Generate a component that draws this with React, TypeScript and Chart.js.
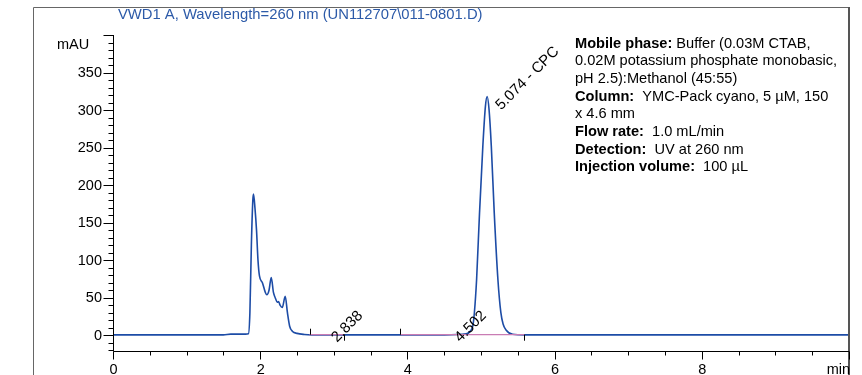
import React, { useEffect, useRef } from "react";
import { Chart, registerables } from "chart.js";

Chart.register(...registerables);

// Retention time (min) and absorbance (mAU)
const times = [
  0, 1.5, 1.6, 1.8, 1.84, 1.86, 1.88, 1.9, 1.909, 1.93, 1.95, 1.97, 1.99, 2.03, 2.07, 2.09,
  2.12, 2.15, 2.18, 2.2, 2.235, 2.25, 2.27, 2.3, 2.34, 2.37, 2.4, 2.44, 2.5, 2.6, 2.7, 3.5,
  4.5, 4.8, 4.86, 4.89, 4.91, 4.94, 4.98, 5.025, 5.06, 5.084, 5.11, 5.14, 5.18, 5.23, 5.27,
  5.3, 5.34, 5.43, 5.6, 10,
];
const absorbance = [
  0.5, 0.5, 1.5, 1.5, 2, 30, 120, 180, 188, 168, 140, 100, 79, 70, 57, 54,
  60, 77, 57, 51, 44, 45, 40, 37, 52, 30, 12, 5, 2.5, 1, 0.5, 0.5,
  0.5, 2, 6, 13, 30, 74, 163, 252, 305, 318, 300, 252, 163, 74, 30,
  15, 7, 1.3, 0.5, 0.5,
];

// Integration baselines (start, end) in minutes
const baseline1 = [2.67, 3.14];
const baseline2 = [3.905, 5.59];
const baselineLevel = 0.7;

// Peak labels
const peakTimes = [2.838, 4.502, 5.084];
const peakValues = [0.5, 0.5, 318];
const peakLabels = ["2.838", "4.502", "5.074 - CPC"];

// Axis ticks
const xTickValues = [0, 2, 4, 6, 8];
const xTickLabels = ["0", "2", "4", "6", "8"];
const yTickValues = [0, 50, 100, 150, 200, 250, 300, 350];
const yTickLabels = ["0", "50", "100", "150", "200", "250", "300", "350"];

const titleText = "VWD1 A, Wavelength=260 nm (UN112707\\011-0801.D)";
const notes: [string, string][] = [
  ["Mobile phase:", " Buffer (0.03M CTAB,"],
  ["", "0.02M potassium phosphate monobasic,"],
  ["", "pH 2.5):Methanol (45:55)"],
  ["Column:", "  YMC-Pack cyano, 5 \u00b5M, 150"],
  ["", "x 4.6 mm"],
  ["Flow rate:", "  1.0 mL/min"],
  ["Detection:", "  UV at 260 nm"],
  ["Injection volume:", "  100 \u00b5L"],
];

const FONT = "Arial, 'Liberation Sans', sans-serif";

const decorPlugin = {
  id: "decor",
  beforeDraw(chart: any) {
    const ctx = chart.ctx;
    ctx.save();
    ctx.fillStyle = "#fff";
    ctx.fillRect(0, 0, chart.width, chart.height);
    ctx.restore();
  },
  afterDraw(chart: any) {
    const ctx = chart.ctx;
    const xs = chart.scales.x;
    const ys = chart.scales.y;
    const area = chart.chartArea;
    ctx.save();

    // outer frame
    ctx.strokeStyle = "#666";
    ctx.lineWidth = 1;
    ctx.beginPath();
    ctx.moveTo(33.5, 375);
    ctx.lineTo(33.5, 7.5);
    ctx.lineTo(849.5, 7.5);
    ctx.stroke();
    ctx.lineWidth = 2;
    ctx.strokeStyle = "#555";
    ctx.beginPath();
    ctx.moveTo(849, 7);
    ctx.lineTo(849, 375);
    ctx.stroke();

    // axes
    ctx.strokeStyle = "#000";
    ctx.lineWidth = 1;
    const ax = Math.round(area.left) + 0.5;
    const ay = Math.round(area.bottom) + 0.5;
    ctx.beginPath();
    ctx.moveTo(ax, area.top);
    ctx.lineTo(ax, ay);
    ctx.lineTo(area.right, ay);
    ctx.stroke();

    // y ticks
    ctx.beginPath();
    for (let v = -20; v <= 400; v += 10) {
      const py = Math.round(ys.getPixelForValue(v)) + 0.5;
      const major = v % 50 === 0;
      ctx.moveTo(ax - (major ? 10 : 5), py);
      ctx.lineTo(ax, py);
    }
    // x ticks
    for (let t = 0; t <= 10.001; t += 0.5) {
      const px = Math.round(xs.getPixelForValue(t)) + 0.5;
      const major = Math.abs(t - Math.round(t / 2) * 2) < 0.001;
      ctx.moveTo(px, ay);
      ctx.lineTo(px, ay + (major ? 8 : 4));
    }
    ctx.stroke();

    ctx.fillStyle = "#000";
    ctx.font = `14.5px ${FONT}`;
    ctx.textAlign = "right";
    ctx.textBaseline = "middle";
    yTickValues.forEach((v, i) => {
      ctx.fillText(yTickLabels[i], ax - 11.5, ys.getPixelForValue(v) + 0.5);
    });
    ctx.textAlign = "center";
    ctx.textBaseline = "alphabetic";
    xTickValues.forEach((v, i) => {
      ctx.fillText(xTickLabels[i], xs.getPixelForValue(v) + 0.5, 374);
    });
    ctx.textAlign = "right";
    ctx.fillText("min", xs.getPixelForValue(10) + 1, 374);

    ctx.textAlign = "left";
    ctx.textBaseline = "middle";
    ctx.fillText("mAU", 57, 45);

    // title
    ctx.fillStyle = "#2c5aa8";
    ctx.font = `14.8px ${FONT}`;
    ctx.fillText(titleText, 118, 15);

    // integration markers
    ctx.strokeStyle = "#000";
    ctx.lineWidth = 1;
    ctx.beginPath();
    const by = ys.getPixelForValue(baselineLevel);
    [
      [baseline1[0], -1],
      [baseline1[1], 1],
      [baseline2[0], -1],
      [baseline2[1], 1],
    ].forEach(([t, dir]) => {
      const px = Math.round(xs.getPixelForValue(t)) + 0.5;
      ctx.moveTo(px, by);
      ctx.lineTo(px, by + dir * 6);
    });
    ctx.stroke();

    // peak labels (rotated)
    ctx.fillStyle = "#000";
    ctx.font = `15px ${FONT}`;
    ctx.textAlign = "left";
    ctx.textBaseline = "alphabetic";
    const offsets = [
      [15, 8],
      [16, 8],
      [14, 14],
    ];
    peakTimes.forEach((t, i) => {
      const px = xs.getPixelForValue(t) + offsets[i][0];
      const py = ys.getPixelForValue(peakValues[i]) + offsets[i][1];
      ctx.save();
      ctx.translate(px, py);
      ctx.rotate(-Math.PI / 4);
      ctx.fillText(peakLabels[i], 0, 0);
      ctx.restore();
    });

    // notes
    ctx.textBaseline = "middle";
    notes.forEach(([b, r], i) => {
      const y = 43.5 + i * 17.7;
      let x = 575;
      if (b) {
        ctx.font = `bold 14.6px ${FONT}`;
        ctx.fillText(b, x, y);
        x += ctx.measureText(b).width;
      }
      ctx.font = `14.6px ${FONT}`;
      ctx.fillText(r, x, y);
    });

    ctx.restore();
  },
};

export default function App() {
  const ref = useRef<HTMLCanvasElement | null>(null);
  useEffect(() => {
    if (!ref.current) return;
    const chart = new Chart(ref.current, {
      type: "line",
      data: {
        datasets: [
          {
            data: [
              { x: baseline1[0], y: baselineLevel },
              { x: baseline1[1], y: baselineLevel },
            ],
            borderColor: "#c97cb4",
            borderWidth: 1.3,
            pointRadius: 0,
            order: 0,
          },
          {
            data: [
              { x: baseline2[0], y: baselineLevel },
              { x: baseline2[1], y: baselineLevel },
            ],
            borderColor: "#c97cb4",
            borderWidth: 1.3,
            pointRadius: 0,
            order: 0,
          },
          {
            data: times.map((t, i) => ({ x: t, y: absorbance[i] })),
            borderColor: "#1d4ca6",
            borderWidth: 1.6,
            pointRadius: 0,
            cubicInterpolationMode: "monotone",
            order: 1,
          },
        ],
      },
      options: {
        animation: false,
        responsive: false,
        devicePixelRatio: 1,
        layout: { padding: { left: 113, right: 13, top: 35, bottom: 24 } },
        plugins: { legend: { display: false }, tooltip: { enabled: false } },
        scales: {
          x: { type: "linear", min: 0, max: 10, display: false },
          y: { type: "linear", min: -21, max: 400, display: false },
        },
      },
      plugins: [decorPlugin],
    });
    return () => chart.destroy();
  }, []);
  return (
    <div style={{ position: "fixed", left: 0, top: 0, width: 862, height: 375 }}>
      <canvas ref={ref} width={862} height={375} />
    </div>
  );
}
